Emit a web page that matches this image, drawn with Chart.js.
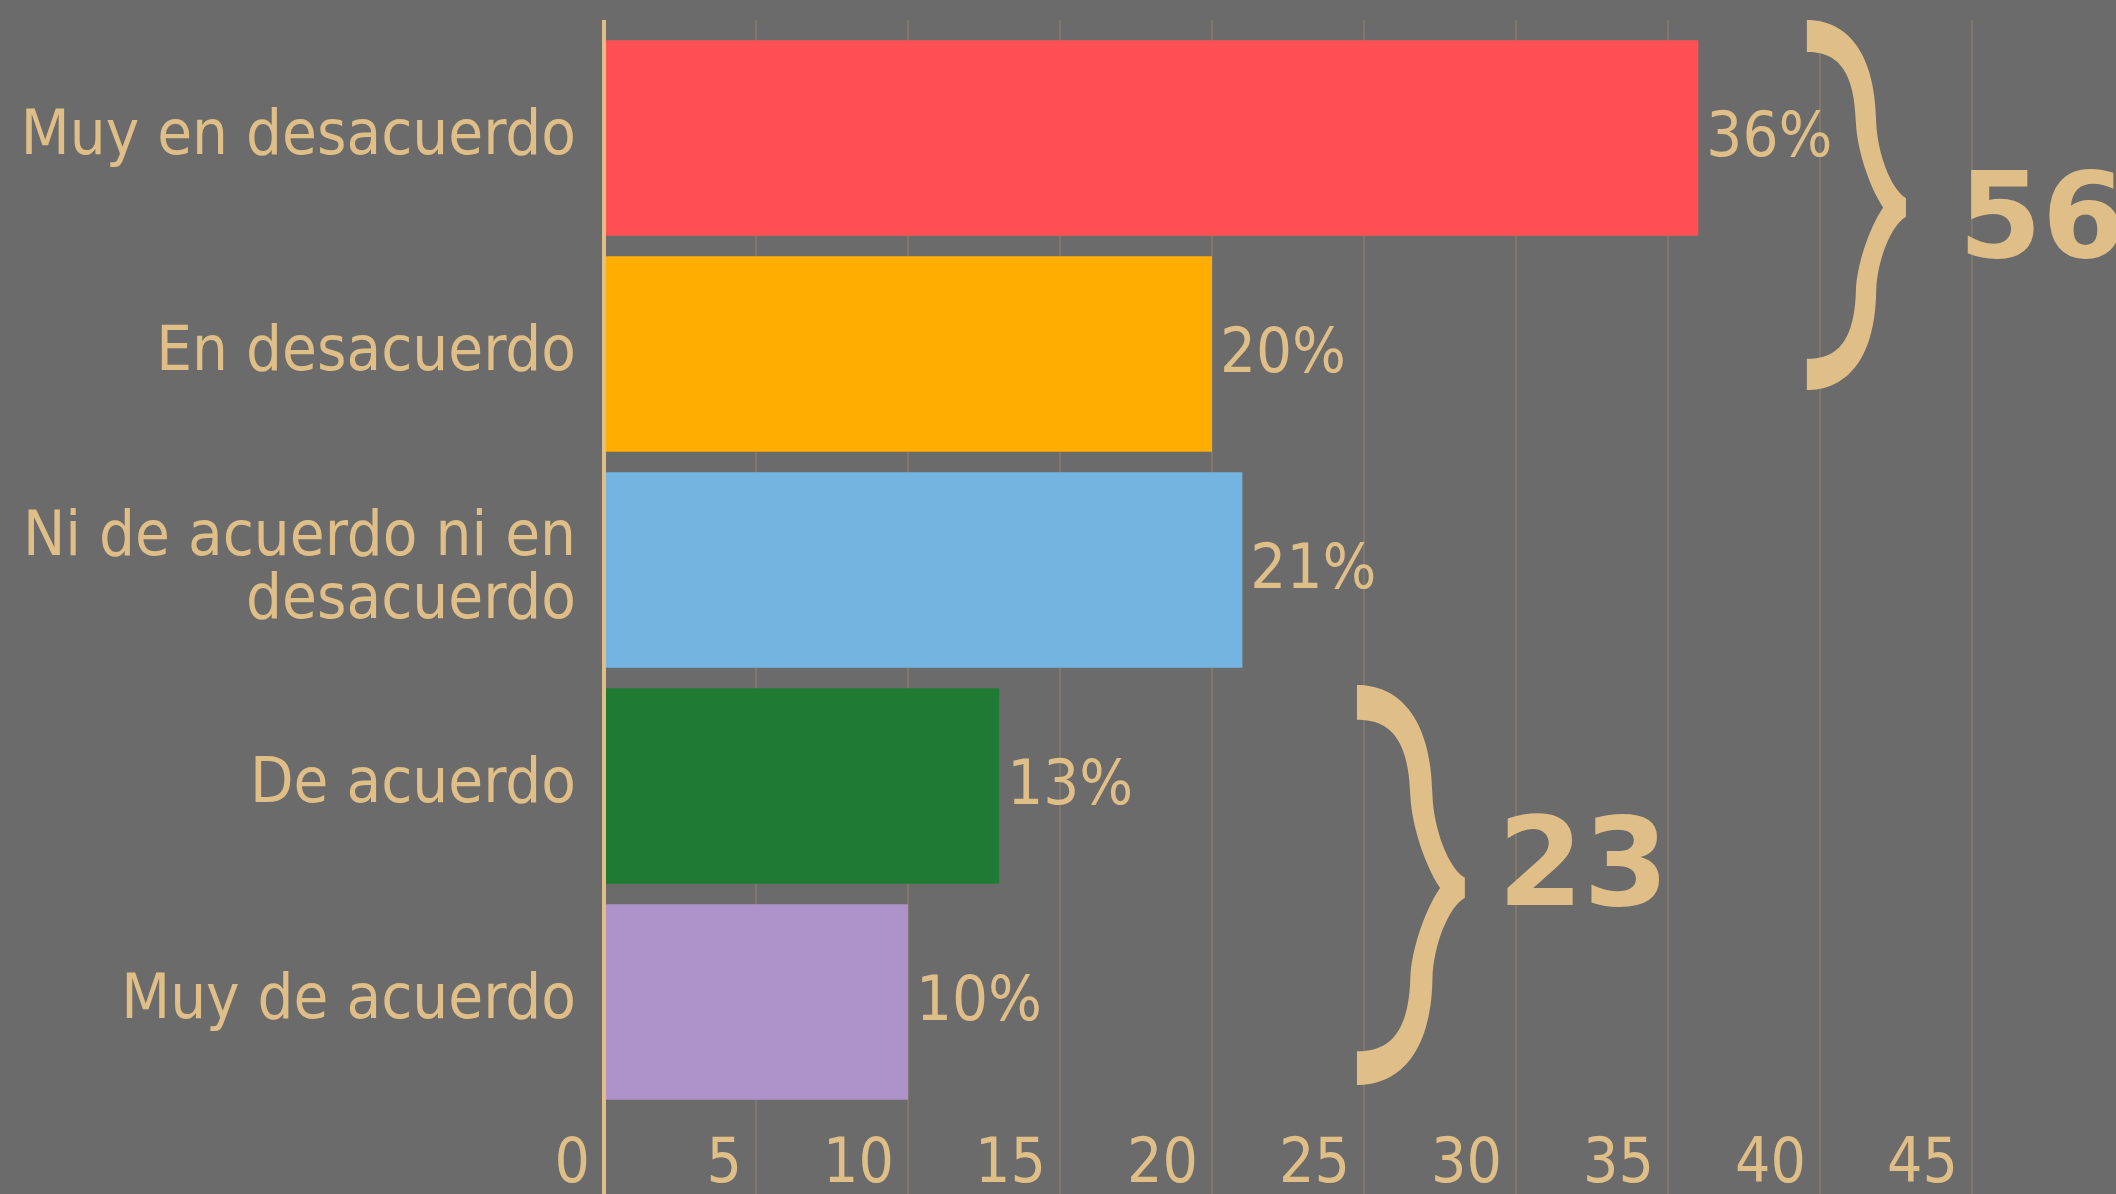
<!DOCTYPE html>
<html>
<head>
<meta charset="utf-8">
<script src="https://cdn.jsdelivr.net/npm/chart.js@4"></script>
<style>
html,body{margin:0;padding:0;background:#6B6B6B;}
#wrap{width:2116px;height:1194px;position:relative;}
</style>
</head>
<body>
<div id="wrap"><canvas id="c" width="2116" height="1194"></canvas></div>
<script>
const categories = ['Muy en desacuerdo', 'En desacuerdo', ['Ni de acuerdo ni en', 'desacuerdo'], 'De acuerdo', 'Muy de acuerdo'];
const values = [36, 20, 21, 13, 10];
const barColors = ['#FF5055', '#FFAD00', '#74B4E0', '#1F7B33', '#AC92C8'];
const xTicks = [0, 5, 10, 15, 20, 25, 30, 35, 40, 45];
const groupTotals = ['56', '23'];

const TAN = '#DFBE88';
const GRID = '#7F786C';
const FONT = "'DejaVu Sans Condensed', 'Liberation Sans Narrow', sans-serif";
const FS = 63;

const annot = {
  id: 'annot',
  beforeDatasetsDraw(chart) {
    const {ctx, chartArea, scales: {x}} = chart;
    ctx.save();
    x.ticks.forEach(t => {
      const px = x.getPixelForValue(t.value);
      ctx.beginPath();
      ctx.strokeStyle = t.value === 0 ? TAN : GRID;
      ctx.lineWidth = t.value === 0 ? 4 : 2;
      ctx.moveTo(px, 20);
      ctx.lineTo(px, chartArea.top);
      ctx.stroke();
    });
    ctx.restore();
  },
  afterDatasetsDraw(chart) {
    const {ctx, scales: {x, y}} = chart;
    ctx.save();
    const meta = chart.getDatasetMeta(0);
    ctx.fillStyle = TAN;
    ctx.font = FS + 'px ' + FONT;
    ctx.textAlign = 'left';
    ctx.textBaseline = 'middle';
    meta.data.forEach((bar, i) => {
      ctx.fillText(values[i] + '%', bar.x + 8, bar.y + 2);
    });
    const braces = [
      {x0: 39.57, x1: 42.83, yT: -0.546, yM: 0.322, yB: 1.167, tx: 44.56, ty: 0.352, size: 120, label: groupTotals[0]},
      {x0: 24.77, x1: 28.32, yT: 2.532, yM: 3.472, yB: 4.384, tx: 29.4, ty: 3.347, size: 123, label: groupTotals[1]}
    ];
    braces.forEach(b => {
      const X0 = x.getPixelForValue(b.x0), X1 = x.getPixelForValue(b.x1);
      const YT = y.getPixelForValue(b.yT), YM = y.getPixelForValue(b.yM), YB = y.getPixelForValue(b.yB);
      drawBrace(ctx, X0, X1, YT, YM, YB);
      ctx.fillStyle = TAN;
      ctx.font = "bold " + b.size + "px 'DejaVu Sans', sans-serif";
      ctx.textAlign = 'left';
      ctx.textBaseline = 'middle';
      ctx.fillText(b.label, x.getPixelForValue(b.tx), y.getPixelForValue(b.ty) + 12);
    });
    ctx.restore();
  }
};

function drawBrace(ctx, x0, x1, yT, yM, yB) {
  const w = x1 - x0, H1 = yM - yT, H2 = yB - yM;
  const X = f => x0 + f * w;
  const Yu = f => yT + f * H1;
  const Yl = f => yB - f * H2;
  ctx.beginPath();
  ctx.moveTo(X(0), Yu(0));
  ctx.bezierCurveTo(X(.36), Yu(0), X(.69), Yu(.14), X(.70), Yu(.547));
  ctx.bezierCurveTo(X(.71), Yu(.70), X(.84), Yu(.90), X(1), Yu(.95));
  ctx.lineTo(X(1), Yl(.95));
  ctx.bezierCurveTo(X(.84), Yl(.90), X(.71), Yl(.70), X(.70), Yl(.547));
  ctx.bezierCurveTo(X(.69), Yl(.14), X(.36), Yl(0), X(0), Yl(0));
  ctx.lineTo(X(0), Yl(.171));
  ctx.bezierCurveTo(X(.27), Yl(.171), X(.48), Yl(.24), X(.495), Yl(.547));
  ctx.bezierCurveTo(X(.505), Yl(.68), X(.62), Yl(.88), X(.77), yM);
  ctx.bezierCurveTo(X(.62), Yu(.88), X(.505), Yu(.68), X(.495), Yu(.547));
  ctx.bezierCurveTo(X(.48), Yu(.24), X(.27), Yu(.171), X(0), Yu(.171));
  ctx.closePath();
  ctx.fillStyle = TAN;
  ctx.fill();
}

new Chart(document.getElementById('c'), {
  type: 'bar',
  data: {
    labels: categories,
    datasets: [{
      data: values,
      backgroundColor: barColors,
      borderWidth: 0,
      barPercentage: 0.906,
      categoryPercentage: 1.0
    }]
  },
  options: {
    indexAxis: 'y',
    responsive: false,
    animation: false,
    devicePixelRatio: 1,
    layout: {padding: {top: 30, right: 0, bottom: 0, left: 0}},
    plugins: {legend: {display: false}, tooltip: {enabled: false}},
    scales: {
      x: {
        type: 'linear',
        min: 0,
        max: 49.74,
        afterBuildTicks: s => { s.ticks = xTicks.map(v => ({value: v})); },
        afterFit: s => { s.height = 84; s.paddingLeft = 0; s.paddingRight = 0; },
        border: {display: false},
        grid: {
          color: c => c.tick && c.tick.value === 0 ? TAN : GRID,
          lineWidth: c => c.tick && c.tick.value === 0 ? 4 : 2,
          drawTicks: true,
          tickLength: 84,
          tickColor: c => c.tick && c.tick.value === 0 ? TAN : GRID,
          tickWidth: c => c.tick && c.tick.value === 0 ? 4 : 2
        },
        ticks: {
          color: TAN,
          font: {family: FONT, size: 62},
          align: 'end',
          labelOffset: -14,
          padding: -65,
          maxRotation: 0,
          autoSkip: false
        }
      },
      y: {
        type: 'category',
        afterFit: s => { s.width = 604; s.paddingTop = 0; s.paddingBottom = 0; },
        border: {display: false},
        grid: {display: false, drawTicks: false},
        ticks: {
          color: TAN,
          font: {family: FONT, size: FS, lineHeight: 1.0},
          padding: 28,
          autoSkip: false
        }
      }
    }
  },
  plugins: [annot]
});
</script>
</body>
</html>
